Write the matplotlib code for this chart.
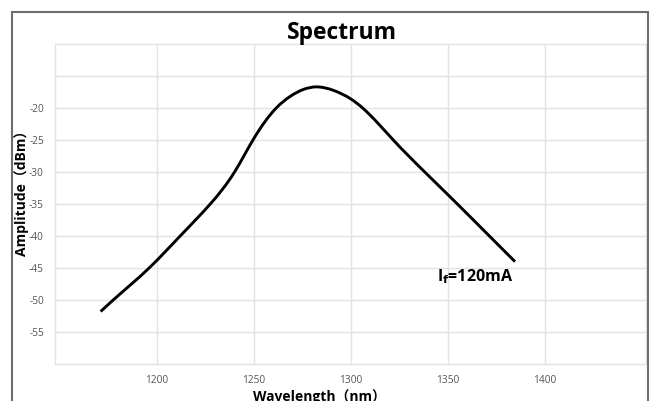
import matplotlib
matplotlib.use("Agg")
import numpy as np
import matplotlib.pyplot as plt
from matplotlib.patches import Rectangle, PathPatch
from matplotlib.path import Path

# Data
wavelength = [1171, 1177.5, 1196, 1212, 1227.5, 1240, 1249.5, 1261.5, 1268.6,
              1275.5, 1282, 1291, 1300, 1306, 1321.8, 1338, 1354.8, 1371.3, 1384.5]
amplitude = [-51.8, -50, -45, -40, -35, -30, -25, -20, -18.2,
             -17.1, -16.7, -17.25, -18.6, -20, -25, -30, -35, -40, -44.0]

x_ticks = [1200, 1250, 1300, 1350, 1400]
x_tick_labels = ["1200", "1250", "1300", "1350", "1400"]
y_ticks = [-55, -50, -45, -40, -35, -30, -25, -20, -15]
y_tick_labels = ["-55", "-50", "-45", "-40", "-35", "-30", "-25", "-20", ""]

title = "Spectrum"
x_label = "Wavelength（nm）"
y_label = "Amplitude（dBm）"
annotation = r"I$_\mathbf{f}$=120mA"

fam = ["Open Sans", "Noto Sans CJK SC", "DejaVu Sans"]
plt.rcParams["font.family"] = fam
plt.rcParams["mathtext.fontset"] = "dejavusans"

fig = plt.figure(figsize=(6.5, 4.01), dpi=100)
ax = fig.add_axes([55/650, 1-364/401, (646-55)/650, (364-44)/401])


def smooth_path(xs, ys):
    """Smooth line through the data points (natural cubic spline drawn as Bezier)."""
    x = np.asarray(xs, float)
    y = np.asarray(ys, float)
    n = len(x)
    h = np.diff(x)
    d = np.diff(y) / h
    A = np.zeros((n, n))
    r = np.zeros(n)
    A[0, 0] = A[-1, -1] = 1
    for i in range(1, n - 1):
        A[i, i - 1] = h[i - 1]
        A[i, i] = 2 * (h[i - 1] + h[i])
        A[i, i + 1] = h[i]
        r[i] = 6 * (d[i] - d[i - 1])
    M = np.linalg.solve(A, r)
    m = np.empty(n)
    m[:-1] = d - h * (2 * M[:-1] + M[1:]) / 6
    m[-1] = d[-1] + h[-1] * (M[-2] + 2 * M[-1]) / 6
    verts = [(x[0], y[0])]
    codes = [Path.MOVETO]
    for i in range(n - 1):
        t = h[i] / 3
        verts += [(x[i] + t, y[i] + m[i] * t),
                  (x[i + 1] - t, y[i + 1] - m[i + 1] * t),
                  (x[i + 1], y[i + 1])]
        codes += [Path.CURVE4] * 3
    return Path(verts, codes)


ax.add_patch(PathPatch(smooth_path(wavelength, amplitude), facecolor="none",
                       edgecolor="black", lw=2.1, capstyle="butt"))

ax.set_xlim(1147.5, 1452)
ax.set_ylim(-60, -10)
ax.set_xticks(x_ticks)
ax.set_xticklabels(x_tick_labels)
ax.set_yticks(y_ticks)
ax.set_yticklabels(y_tick_labels)
ax.tick_params(length=0, labelsize=7.3, colors="#555555")
ax.tick_params(axis="y", pad=8)
ax.tick_params(axis="x", pad=8)
ax.grid(True, color="#e3e3e3", lw=1)
ax.set_axisbelow(True)
for s in ax.spines.values():
    s.set_color("#e3e3e3")
    s.set_linewidth(1)

fig.text(342/650, 1 - 33/401, title, fontsize=16.5, fontweight="bold",
         ha="center", va="center", family=fam)
ax.set_xlabel(x_label, fontsize=10, fontweight="bold", labelpad=2, family=fam)
ax.xaxis.set_label_coords((319-55)/591, -0.078)
ax.xaxis.label.set_va("top")
ax.set_ylabel(y_label, fontsize=10, fontweight="bold", family=fam)
ax.yaxis.set_label_coords((29-55)/591, (364-190)/320)

ax.text(1364, -46.4, annotation, fontsize=11.5, fontweight="bold",
        ha="center", va="center", family=fam)

fig.patches.append(Rectangle((11.5/650, -0.05), (648-11.5)/650, 1.05 - 12/401,
                             transform=fig.transFigure, fill=False,
                             edgecolor="#6e6e6e", lw=1.5))

fig.savefig("out.png", dpi=100)
